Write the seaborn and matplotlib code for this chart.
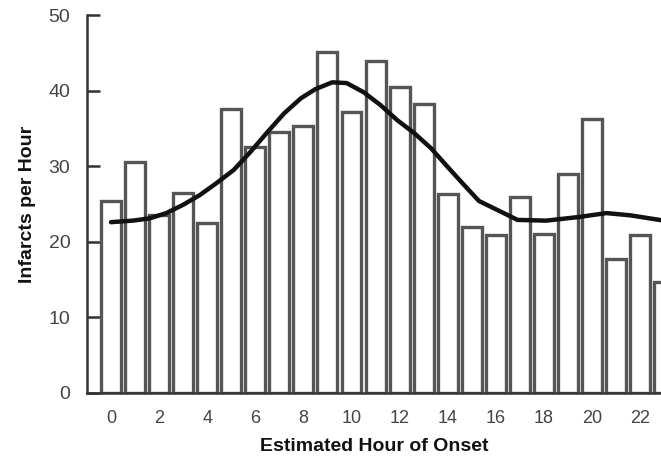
import matplotlib
matplotlib.use("Agg")
import matplotlib.pyplot as plt
import seaborn as sns
import pandas as pd

hours = list(range(24))
infarcts = [25.4, 30.5, 23.5, 26.4, 22.5, 37.6, 32.5, 34.5, 35.3, 45.1, 37.2, 43.9,
            40.5, 38.2, 26.3, 22.0, 20.9, 25.9, 21.0, 29.0, 36.2, 17.7, 20.9, 14.7]
curve_hours = [0.0, 0.9, 1.6, 2.3, 3.0, 3.7, 4.4, 5.1, 5.8, 6.5, 7.2, 7.9, 8.5, 9.2,
               9.8, 10.5, 11.2, 11.9, 12.6, 13.3, 14.0, 14.6, 15.3, 16.2, 16.9, 18.1,
               19.5, 20.6, 21.6, 22.8, 23.0]
curve_values = [22.6, 22.8, 23.1, 23.8, 24.9, 26.2, 27.8, 29.5, 31.9, 34.5, 37.0, 39.0,
                40.2, 41.1, 41.0, 39.8, 38.1, 36.1, 34.4, 32.4, 29.9, 27.8, 25.4, 24.0,
                22.9, 22.8, 23.3, 23.8, 23.5, 22.9, 22.8]
xtick_labels = [str(h) for h in range(0, 23, 2)]
yticks = [0, 10, 20, 30, 40, 50]

sns.set_theme(style="white")
plt.rcParams['font.family'] = ['Liberation Sans', 'DejaVu Sans']

bars = pd.DataFrame({"hour": hours, "n": infarcts})
fit = pd.DataFrame({"hour": curve_hours, "fit": curve_values})

fig = plt.figure(figsize=(6.61, 4.66), dpi=100)
ax = fig.add_axes([0.1316, 0.1567, 0.8684, 0.811])

sns.barplot(data=bars, x="hour", y="n", order=hours, color="white", edgecolor="#555555",
            linewidth=2.4, width=0.83, ax=ax, native_scale=True, zorder=2)
sns.lineplot(data=fit, x="hour", y="fit", color="#111111", linewidth=3.2, ax=ax,
             zorder=3, sort=False)

ax.set_xlim(-1.0, 22.87)
ax.set_ylim(0, 50)
ax.set_xticks(range(0, 23, 2))
ax.set_xticklabels(xtick_labels)
ax.set_yticks(yticks)
for s in ["top", "right"]:
    ax.spines[s].set_visible(False)
ax.spines["left"].set_color("#333333")
ax.spines["bottom"].set_color("#333333")
ax.spines["left"].set_linewidth(1.8)
ax.spines["bottom"].set_linewidth(1.8)
ax.tick_params(axis="y", direction="in", length=9, width=1.8, color="#333333",
               labelsize=14, labelcolor="#444444", pad=12, left=True)
ax.tick_params(axis="x", length=0, labelsize=13, labelcolor="#444444", pad=12)
ax.set_xlabel("Estimated Hour of Onset", fontsize=14, fontweight="bold", color="#111111", labelpad=8)
ax.set_ylabel("Infarcts per Hour", fontsize=14, fontweight="bold", color="#111111", labelpad=9)
ax.grid(False)

fig.savefig("out.png", dpi=100)
